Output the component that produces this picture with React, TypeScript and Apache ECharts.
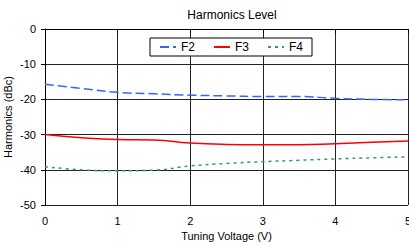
import React, { useEffect, useRef } from "react";
import * as echarts from "echarts";

const xValues = [0, 0.5, 1, 1.5, 2, 2.5, 3, 3.5, 4, 4.5, 5];
const f2 = [-15.7, -16.9, -18.0, -18.4, -18.8, -19.0, -19.2, -19.2, -19.7, -20.0, -20.1];
const f3 = [-30.0, -30.9, -31.4, -31.5, -32.4, -32.8, -32.9, -32.9, -32.6, -32.2, -31.8];
const f4 = [-39.1, -40.0, -40.3, -40.1, -38.9, -38.2, -37.7, -37.3, -36.9, -36.6, -36.3];
const yTicks = [0, -10, -20, -30, -40, -50];
const xTicks = [0, 1, 2, 3, 4, 5];

const pairs = (ys: number[]) => xValues.map((x, i) => [x, ys[i]]);

export default function App() {
  const ref = useRef<HTMLDivElement>(null);
  useEffect(() => {
    const chart = echarts.init(ref.current!, null, { renderer: "svg" });
    const font = "Liberation Sans, Arial, sans-serif";
    chart.setOption({
      animation: false,
      backgroundColor: "#fff",
      textStyle: { fontFamily: font },
      title: {
        text: "Harmonics Level",
        left: 227,
        textAlign: "center",
        top: 4,
        textStyle: { fontSize: 12, fontWeight: "normal", color: "#000", fontFamily: font },
      },
      legend: {
        top: 38,
        left: 150,
        orient: "horizontal",
        padding: [3, 9, 3, 9],
        itemGap: 18,
        itemWidth: 16,
        itemHeight: 10,
        borderColor: "#000",
        borderWidth: 1,
        backgroundColor: "#fff",
        itemStyle: { opacity: 0 },
        textStyle: { fontSize: 12, color: "#000", fontFamily: font },
        data: ["F2", "F3", "F4"],
      },
      grid: { left: 45, right: 1, top: 29, bottom: 40, containLabel: false, outerBoundsMode: "none" },
      xAxis: {
        type: "value",
        min: 0,
        max: 5,
        interval: 1,
        name: "Tuning Voltage (V)",
        nameLocation: "middle",
        nameGap: 25,
        nameMoveOverlap: false,
        nameTextStyle: { fontSize: 11, color: "#000", fontFamily: font },
        axisLine: { lineStyle: { color: "#000", width: 1 } },
        axisTick: { show: true, length: 4, lineStyle: { color: "#000" } },
        axisLabel: {
          fontSize: 11,
          color: "#000",
          fontFamily: font,
          margin: 10,
          formatter: (v: number) => (xTicks.includes(v) ? String(v) : ""),
        },
        splitLine: { show: true, lineStyle: { color: "#222", width: 1 } },
      },
      yAxis: {
        type: "value",
        min: -50,
        max: 0,
        interval: 10,
        name: "Harmonics (dBc)",
        nameLocation: "middle",
        nameGap: 32,
        nameMoveOverlap: false,
        nameTextStyle: { fontSize: 11, color: "#000", fontFamily: font },
        axisLine: { show: true, lineStyle: { color: "#000", width: 1 } },
        axisTick: { show: true, length: 4, lineStyle: { color: "#000" } },
        axisLabel: {
          fontSize: 11,
          color: "#000",
          fontFamily: font,
          margin: 9,
          formatter: (v: number) => (yTicks.includes(v) ? String(v) : ""),
        },
        splitLine: { show: true, lineStyle: { color: "#222", width: 1 } },
      },
      series: [
        {
          name: "F2",
          type: "line",
          smooth: true,
          symbol: "none",
          data: pairs(f2),
          lineStyle: { color: "#3366ff", width: 1.5, type: [9, 4] },
          itemStyle: { color: "#3366ff" },
        },
        {
          name: "F3",
          type: "line",
          smooth: true,
          symbol: "none",
          data: pairs(f3),
          lineStyle: { color: "#ff0000", width: 1.5, type: "solid" },
          itemStyle: { color: "#ff0000" },
        },
        {
          name: "F4",
          type: "line",
          smooth: true,
          symbol: "none",
          data: pairs(f4),
          lineStyle: { color: "#339966", width: 1.5, type: [3, 4] },
          itemStyle: { color: "#339966" },
        },
      ],
    });
    return () => chart.dispose();
  }, []);
  return (
    <div
      ref={ref}
      style={{ width: 409, height: 245, position: "fixed", left: 0, top: 0 }}
    />
  );
}
